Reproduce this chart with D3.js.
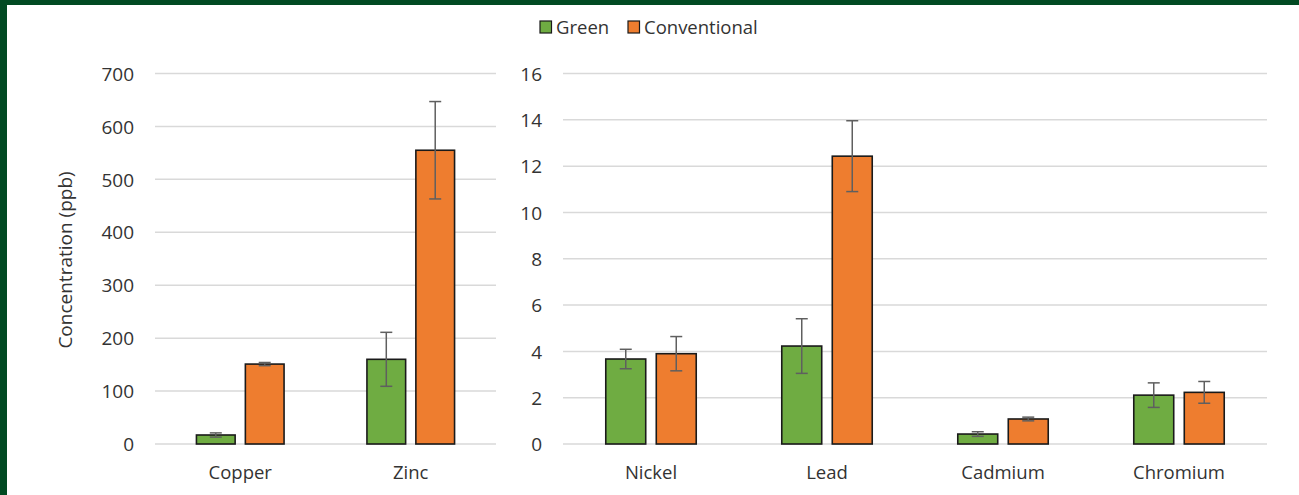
<!DOCTYPE html>
<html>
<head>
<meta charset="utf-8">
<script src="https://cdn.jsdelivr.net/npm/d3@7"></script>
<style>
  html, body { margin: 0; padding: 0; background: #ffffff; }
  svg { display: block; }
  text { font-family: "Open Sans", "Noto Sans", sans-serif; fill: #333333; }
</style>
</head>
<body>
<svg id="chart" width="1299" height="495"></svg>
<script>
// Metal concentrations (ppb) in runoff from green vs conventional roofs
const seriesNames = ["Green", "Conventional"];
const seriesColors = ["#6fac42", "#ee7d2f"];

// Left panel: major metals
const majorMetals = ["Copper", "Zinc"];
const majorGreen = [17, 160];
const majorGreenErr = [4, 51];
const majorConventional = [151, 555];
const majorConventionalErr = [3, 92];
const majorTicks = [0, 100, 200, 300, 400, 500, 600, 700];

// Right panel: trace metals
const traceMetals = ["Nickel", "Lead", "Cadmium", "Chromium"];
const traceGreen = [3.67, 4.23, 0.43, 2.11];
const traceGreenErr = [0.42, 1.18, 0.1, 0.53];
const traceConventional = [3.9, 12.43, 1.08, 2.23];
const traceConventionalErr = [0.74, 1.53, 0.08, 0.47];
const traceTicks = [0, 2, 4, 6, 8, 10, 12, 14, 16];

const svg = d3.select("#chart");
const textColor = "#333333";

// frame
svg.append("rect").attr("x", 0).attr("y", 0).attr("width", 1299).attr("height", 495).attr("fill", "#ffffff");
svg.append("rect").attr("x", 0).attr("y", 0).attr("width", 1299).attr("height", 5).attr("fill", "#014a22");
svg.append("rect").attr("x", 0).attr("y", 0).attr("width", 7).attr("height", 495).attr("fill", "#014a22");

const yTop = 73.5, yBottom = 444;

function panel(cfg) {
  const g = svg.append("g");
  const y = d3.scaleLinear().domain([cfg.ticks[0], cfg.ticks[cfg.ticks.length - 1]]).range([yBottom, yTop]);
  const x = d3.scaleBand().domain(cfg.cats).range([cfg.x0, cfg.x1]).padding(0);
  const xs = d3.scaleBand().domain(seriesNames).range([0, x.bandwidth()])
    .paddingInner(0.209).paddingOuter(0.847);

  // gridlines
  g.selectAll("line.grid").data(cfg.ticks).join("line")
    .attr("x1", cfg.x0).attr("x2", cfg.x1)
    .attr("y1", d => y(d)).attr("y2", d => y(d))
    .attr("stroke", "#d9d9d9").attr("stroke-width", 1.5);

  // y axis labels
  const yAxis = d3.axisLeft(y).tickValues(cfg.ticks).tickSize(0).tickPadding(0);
  const ya = g.append("g").attr("transform", `translate(${cfg.labelX},0)`).call(yAxis);
  ya.select(".domain").remove();
  ya.selectAll("text").style("font-size", "19px").style("font-family", "'Open Sans', sans-serif")
    .attr("fill", textColor).attr("dy", "0.35em");

  // x axis labels
  const xAxis = d3.axisBottom(x).tickSize(0).tickPadding(0);
  const xa = g.append("g").attr("transform", `translate(0,${yBottom})`).call(xAxis);
  xa.select(".domain").remove();
  xa.selectAll("text").style("font-size", "18.5px").style("font-family", "'Open Sans', sans-serif")
    .attr("fill", textColor).attr("y", 34.5).attr("dy", 0);

  const rows = [];
  cfg.cats.forEach((c, i) => {
    rows.push({ cat: c, s: "Green", v: cfg.green[i], e: cfg.greenErr[i], color: seriesColors[0] });
    rows.push({ cat: c, s: "Conventional", v: cfg.conv[i], e: cfg.convErr[i], color: seriesColors[1] });
  });

  g.selectAll("rect.bar").data(rows).join("rect")
    .attr("x", d => x(d.cat) + xs(d.s))
    .attr("width", xs.bandwidth())
    .attr("y", d => y(d.v))
    .attr("height", d => y(0) - y(d.v))
    .attr("fill", d => d.color)
    .attr("stroke", "#1a1a1a").attr("stroke-width", 1.6);

  const eb = g.selectAll("g.err").data(rows).join("g")
    .attr("transform", d => `translate(${x(d.cat) + xs(d.s) + xs.bandwidth() / 2},0)`);
  const errColor = "#5f5f5f";
  eb.append("line").attr("x1", 0).attr("x2", 0)
    .attr("y1", d => y(d.v + d.e)).attr("y2", d => y(d.v - d.e))
    .attr("stroke", errColor).attr("stroke-width", 1.5);
  eb.append("line").attr("x1", -6).attr("x2", 6)
    .attr("y1", d => y(d.v + d.e)).attr("y2", d => y(d.v + d.e))
    .attr("stroke", errColor).attr("stroke-width", 1.5);
  eb.append("line").attr("x1", -6).attr("x2", 6)
    .attr("y1", d => y(d.v - d.e)).attr("y2", d => y(d.v - d.e))
    .attr("stroke", errColor).attr("stroke-width", 1.5);
}

panel({ cats: majorMetals, green: majorGreen, greenErr: majorGreenErr,
        conv: majorConventional, convErr: majorConventionalErr, ticks: majorTicks,
        x0: 155, x1: 496, labelX: 134 });
panel({ cats: traceMetals, green: traceGreen, greenErr: traceGreenErr,
        conv: traceConventional, convErr: traceConventionalErr, ticks: traceTicks,
        x0: 563, x1: 1267, labelX: 542 });

// y axis title
svg.append("text")
  .attr("transform", "translate(72,260) rotate(-90)")
  .attr("text-anchor", "middle")
  .style("font-size", "19px")
  .text("Concentration (ppb)");

// legend
const legendX = [540, 628];
const legend = svg.selectAll("g.legend").data(seriesNames).join("g")
  .attr("transform", (d, i) => `translate(${legendX[i]},21)`);
legend.append("rect").attr("width", 11.5).attr("height", 12)
  .attr("fill", (d, i) => seriesColors[i]).attr("stroke", "#1a1a1a").attr("stroke-width", 1.2);
legend.append("text").attr("x", 16).attr("y", 12.5)
  .style("font-size", "18.5px").text(d => d);
</script>
</body>
</html>
